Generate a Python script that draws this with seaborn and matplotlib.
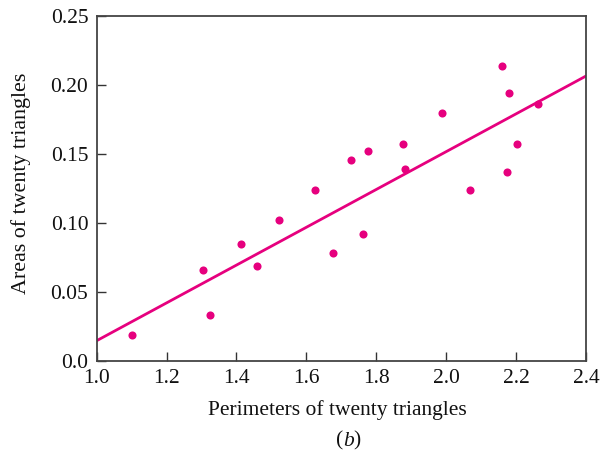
import matplotlib
matplotlib.use("Agg")
import matplotlib.pyplot as plt
import seaborn as sns
import numpy as np
import pandas as pd

perimeters = [1.101, 1.304, 1.324, 1.413, 1.459, 1.522, 1.625, 1.676, 1.728, 1.762,
              1.776, 1.876, 1.882, 1.988, 2.068, 2.160, 2.174, 2.180, 2.203, 2.263]
areas = [0.0186, 0.0657, 0.0330, 0.0846, 0.0686, 0.1020, 0.1240, 0.0780, 0.1454, 0.0918,
         0.1520, 0.1570, 0.1390, 0.1795, 0.1240, 0.2136, 0.1367, 0.1940, 0.1570, 0.1860]
fit_intercept = -0.1225
fit_slope = 0.137
xticks = [1.0, 1.2, 1.4, 1.6, 1.8, 2.0, 2.2, 2.4]
yticks = [0.0, 0.05, 0.10, 0.15, 0.20, 0.25]
ytick_labels = ["0.0", "0.05", "0.10", "0.15", "0.20", "0.25"]

df = pd.DataFrame({"perimeter": perimeters, "area": areas})
xlim = (xticks[0], xticks[-1])
line_df = pd.DataFrame({"perimeter": list(xlim)})
line_df["area"] = fit_intercept + fit_slope * line_df["perimeter"]

sns.set_theme(style="ticks")
plt.rcParams["font.family"] = ["Liberation Serif", "DejaVu Serif"]

color = "#E6007E"
fs = 15.5
fig = plt.figure(figsize=(6.1, 4.51), dpi=100)
ax = fig.add_axes([0.1585, 0.2002, 0.8022, 0.765])

sns.lineplot(data=line_df, x="perimeter", y="area", ax=ax, color=color, linewidth=2.0)
sns.scatterplot(data=df, x="perimeter", y="area", ax=ax, color=color, s=34,
                linewidth=0, zorder=3)

ax.set_xlim(*xlim)
ax.set_ylim(0.0, 0.25)
ax.set_xticks(xticks)
ax.set_xticklabels([f"{v:.1f}" for v in xticks])
ax.set_yticks(yticks)
ax.set_yticklabels(ytick_labels)
ax.tick_params(direction="in", length=6.5, width=1.0, colors="#333333",
               labelcolor="#111111", labelsize=fs)
ax.tick_params(axis="y", pad=6)
ax.tick_params(axis="x", pad=6)
for s in ax.spines.values():
    s.set_visible(True)
    s.set_color("#444444")
    s.set_linewidth(1.3)

ax.set_xlabel("Perimeters of twenty triangles", fontsize=fs, color="#111111")
ax.set_ylabel("Areas of twenty triangles", fontsize=15.8, color="#111111")
ax.xaxis.set_label_coords(0.491, -0.143)
ax.xaxis.label.set_va("center")
ax.yaxis.set_label_coords(-0.154, 0.515)
ax.yaxis.label.set_va("center")

yb = 1 - 441 / 451
fig.text(343.5 / 610, yb, "(", fontsize=fs, ha="right", va="center", color="#111111")
fig.text(348.5 / 610, yb, "b", fontsize=fs, ha="center", va="center", style="italic", color="#111111")
fig.text(353.5 / 610, yb, ")", fontsize=fs, ha="left", va="center", color="#111111")

fig.savefig("out.png", dpi=100)
